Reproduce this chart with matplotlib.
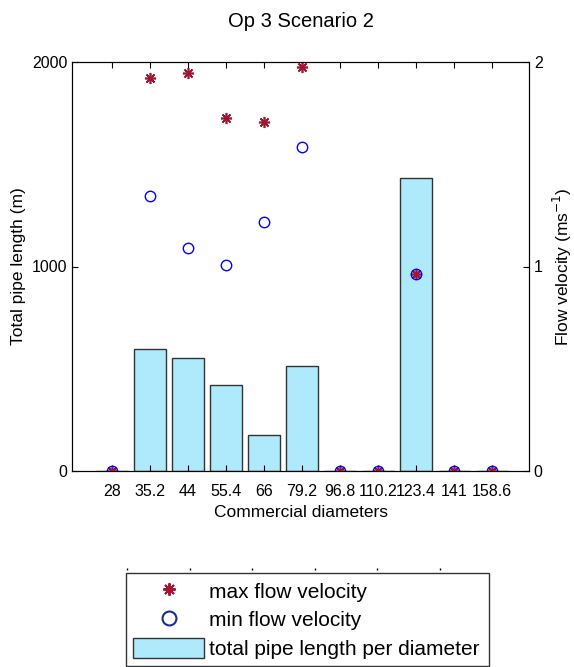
import numpy as np
import matplotlib.pyplot as plt
from matplotlib.patches import Patch
from matplotlib.lines import Line2D

plt.rcParams['font.family'] = ['Liberation Sans', 'DejaVu Sans']

diameters = ['28', '35.2', '44', '55.4', '66', '79.2', '96.8', '110.2', '123.4', '141', '158.6']
pipeLength = [0, 595, 554, 419, 176, 512, 0, 0, 1433, 0, 0]
maxVelocity = [0, 1.923, 1.948, 1.728, 1.705, 1.974, 0, 0, 0.963, 0, 0]
minVelocity = [0, 1.343, 1.089, 1.007, 1.218, 1.583, 0, 0, 0.963, 0, 0]

barColor = '#aeeafb'
starColor = '#a2142f'
circleColor = '#0000ff'

x = np.arange(len(diameters))

fig = plt.figure(figsize=(5.74, 6.67), dpi=100)
ax = fig.add_axes([72 / 574, 1 - 471 / 667, (529 - 72) / 574, (471 - 62) / 667])
ax.bar(x, pipeLength, width=0.82, color=barColor, edgecolor='#333333', linewidth=1)
ax.set_xlim(-1.05, 10.97)
ax.set_ylim(0, 2000)
ax.set_yticks([0, 1000, 2000])
ax.set_xticks(x)
ax.set_xticklabels(diameters, fontsize=11.5)
ax.tick_params(axis='both', direction='in', length=4, labelsize=11.5, top=True)
ax.tick_params(axis='x', pad=9)
ax.set_xlabel('Commercial diameters', fontsize=12.5, labelpad=5)
ax.set_ylabel('Total pipe length (m)', fontsize=12.5)
ax.set_title('Op 3 Scenario 2', fontsize=14.5, pad=25)

ax2 = ax.twinx()
ax2.plot(x, maxVelocity, linestyle='none', marker=(8, 2, 0), markersize=8,
         color=starColor, markeredgewidth=1.2)
ax2.plot(x, minVelocity, linestyle='none', marker='o', markersize=7.5,
         markerfacecolor='none', markeredgecolor=circleColor, markeredgewidth=1)
ax2.set_ylim(0, 2)
ax2.set_yticks([0, 1, 2])
ax2.tick_params(axis='y', direction='in', length=4, labelsize=11.5)
ax2.set_ylabel(r'Flow velocity (ms$^{-1}$)', fontsize=12.5, labelpad=6)

# stray tick marks above the legend
axt = fig.add_axes([127 / 574, 1 - 568 / 667, (440 - 127) / 574, 0.0001])
axt.set_xlim(0, 5)
axt.set_xticks(np.arange(6))
axt.set_yticks([])
axt.set_xticklabels([])
for s in axt.spines.values():
    s.set_visible(False)
axt.tick_params(axis='x', direction='out', length=1.5, width=1, top=False)
axt.patch.set_alpha(0)

handles = [
    Line2D([], [], linestyle='none', marker=(8, 2, 0), markersize=9,
           color=starColor, markeredgewidth=1.4),
    Line2D([], [], linestyle='none', marker='o', markersize=10,
           markerfacecolor='none', markeredgecolor='#1a2a9a', markeredgewidth=1.5),
    Patch(facecolor=barColor, edgecolor='#333333', linewidth=1),
]
labels = ['max flow velocity', 'min flow velocity', 'total pipe length per diameter']
leg = fig.legend(handles, labels, loc='lower left',
                 bbox_to_anchor=(126 / 574, 0.0015, 363 / 574, 93 / 667), mode='expand',
                 fontsize=15, handlelength=3.4, handleheight=1.1, handletextpad=0.25,
                 borderpad=0.35, labelspacing=0.36, borderaxespad=0, fancybox=False,
                 framealpha=1)
leg.get_frame().set_edgecolor('#333333')
leg.get_frame().set_linewidth(1)

fig.savefig('out.png', dpi=100)
